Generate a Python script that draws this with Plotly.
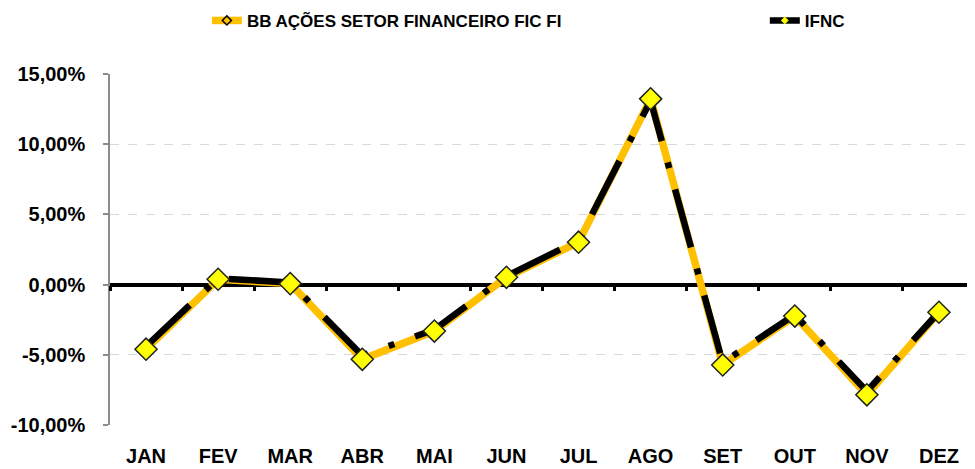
import plotly.graph_objects as go

months = ["JAN", "FEV", "MAR", "ABR", "MAI", "JUN", "JUL", "AGO", "SET", "OUT", "NOV", "DEZ"]
bb_fund = [-4.60, 0.38, 0.07, -5.32, -3.31, 0.52, 3.02, 13.23, -5.72, -2.24, -7.85, -1.97]
ifnc = [-4.40, 0.45, 0.15, -5.05, -3.20, 0.60, 3.15, 13.10, -5.55, -2.15, -7.60, -1.95]
y_ticks = [-10, -5, 0, 5, 10, 15]
y_tick_labels = ["-10,00%", "-5,00%", "0,00%", "5,00%", "10,00%", "15,00%"]

ORANGE = "#FFC000"
YELLOW = "#FFFF00"
FONT = "Liberation Sans, Arial, sans-serif"

fig = go.Figure()

# orange line underneath
fig.add_trace(go.Scatter(
    x=months, y=bb_fund, name="BB AÇÕES SETOR FINANCEIRO FIC FI",
    mode="lines+markers",
    line=dict(color=ORANGE, width=7.5),
    marker=dict(symbol="diamond", size=7, color=ORANGE, line=dict(color="black", width=1.5)),
    legend="legend",
))

# black dash-dot line over it
fig.add_trace(go.Scatter(
    x=months, y=ifnc, name="IFNC",
    mode="lines+markers",
    line=dict(color="black", width=6.5, dash="60px,22px,6px,22px"),
    marker=dict(symbol="diamond", size=6, color=YELLOW),
    legend="legend2",
))

# big diamonds on top (overlay subplot so they sit above both lines)
fig.add_trace(go.Scatter(
    x=months, y=bb_fund, xaxis="x2",
    mode="markers", showlegend=False,
    marker=dict(symbol="diamond", size=17, color=YELLOW, line=dict(color="#222222", width=1.5)),
))

# page body has an 8px margin, so the figure is 8px smaller than the window
fig.update_layout(
    width=967, height=461,
    margin=dict(l=102, r=0, t=66, b=44),
    paper_bgcolor="white", plot_bgcolor="white",
    separators=",.",
    font=dict(family=FONT, size=20, color="black", weight="bold"),
    xaxis=dict(
        type="category", categoryarray=months, range=[-0.5, 11.5],
        showline=False, showgrid=False, zeroline=False, ticks="",
        ticklabelstandoff=17, automargin=False,
        tickfont=dict(size=20, weight="bold"),
    ),
    xaxis2=dict(
        type="category", categoryarray=months, range=[-0.5, 11.5],
        overlaying="x", anchor="free", position=0.4, automargin=False,
        showline=False, showgrid=False, zeroline=False,
        ticks="outside", tickson="boundaries", ticklen=5, tickwidth=3, tickcolor="black",
        showticklabels=False,
    ),
    yaxis=dict(
        range=[-10, 15], tickvals=y_ticks, ticktext=y_tick_labels,
        showline=True, linecolor="#8c8c8c", linewidth=1.5,
        ticks="outside", ticklen=5, tickcolor="#8c8c8c", tickwidth=1.5,
        showgrid=True, gridcolor="#d9d9d9", griddash="dash", gridwidth=1,
        zeroline=True, zerolinecolor="black", zerolinewidth=4,
        ticklabelstandoff=14, automargin=False,
        tickfont=dict(size=20, weight="bold"),
    ),
    legend=dict(
        orientation="h", x=0.112, xanchor="left", yref="container", y=0.972, yanchor="middle",
        bgcolor="rgba(0,0,0,0)", font=dict(size=17, weight="bold"),
    ),
    legend2=dict(
        orientation="h", x=0.757, xanchor="left", yref="container", y=0.972, yanchor="middle",
        bgcolor="rgba(0,0,0,0)", font=dict(size=17, weight="bold"),
    ),
    showlegend=True,
)

fig.write_html("out.html")
